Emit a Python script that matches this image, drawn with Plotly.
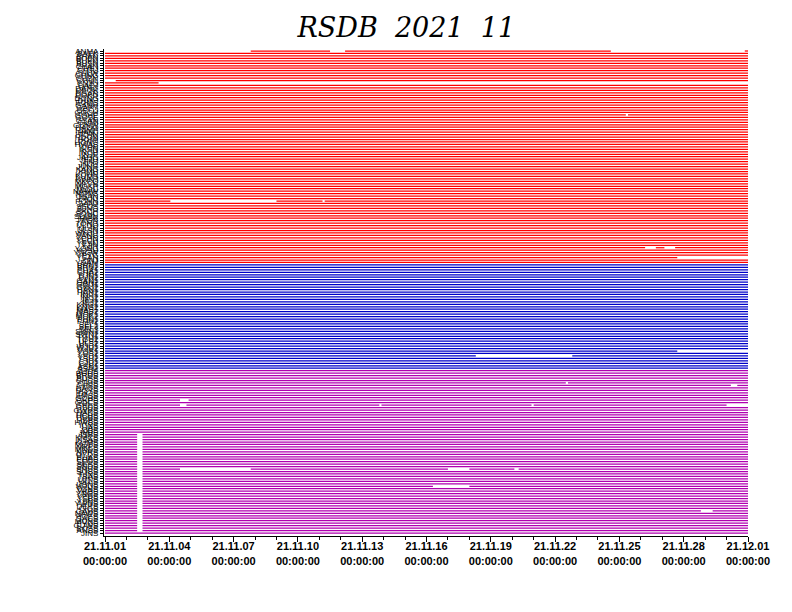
import pandas as pd
import plotly.graph_objects as go

month_start = pd.Timestamp("2021-11-01")
n_days = 30

red_stations = ("ANMA BAEK BHAN BOEN BUKN BUSN CHAN CHEJ CHJU CHLW CHNG CHSN CHUL CNJU DAEJ "
                "DANG DEOK DGAN DOKD DONG DUKJ EUMS GANH GAPY GEOJ GOCH GOHE GOSE GSAN GUMI "
                "GUNW HADO HAMP HANJ HCHN HDON HOMI HONG HWAS ICHN IKSN INCH INJE JAHG JEJU "
                "JINJ JNJU JUNG KANG KIMH KOHN KUMS KWNJ MKPO MLYN MOKP MUJU NAMW NONS OSAN "
                "PAJU POHN SANJ SEOS SJNG SKCH SONC SUWN TABK TEGN TONG ULDO ULJN ULSN WNJU "
                "YANG YCHN YECH YESN YJIN YONG YOSU YNGW YPYG YSAN ZINJ YDAM").split()
blue_stations = ("BRN1 BRN2 CHA1 CHA2 DJN1 DJN2 GAN1 GAN2 GWJ1 GWJ2 HAN1 HAN2 INC1 INC2 JEJ1 "
                 "JEJ2 KNG1 KNG2 MAS1 MAS2 MOK1 MOK2 PHN1 PHN2 SEL1 SEL2 SEL3 SWN1 SWN2 TGU1 "
                 "TGU2 ULS1 ULS2 WJU1 WJU2 YOS1 YOS2 YSU1 YSU2 CJU1 CJU2 ASN1 ASN2").split()
magenta_stations = ("AJDS BGDS BRDS BUSS CHCS CHJS CHSS DAGS DGYS DKJS "
                    "EMSS GCHS GKPS GOCS GRES GSUS GWHS HAKS HCHS HDBS "
                    "HSBS HWSS ICNS IJAS JJBS JMJS JSBS KMCS KSAS KUMS "
                    "MGBS MKLS MNDS NPRS OYDS PHAS PHES SEOS SESS SNDS "
                    "SNUS SOSS TJNS TBAS UJNS ULLS USNS WJUS YGNS YKBS "
                    "YNGS YPDS YSBS YSNS YWNS DEKS CIGS GAHS NAWS HOES "
                    "SACS MUNS PYCS GUWS BOSS ANSS JINS").split()

# data gaps per station row (day offsets from 2021-11-01 00:00)
red_gaps = {
    0: [(0.0, 6.8), (10.5, 11.2), (23.6, 29.85)],
    12: [(0.0, 0.5)],
    13: [(2.5, 30.0)],
    26: [(24.3, 24.4)],
    61: [(3.05, 8.0), (10.15, 10.25)],
    80: [(25.2, 25.7), (26.1, 26.6)],
    84: [(26.7, 30.0)],
}
blue_gaps = {
    35: [(26.7, 30.0)],
    37: [(17.3, 21.8)],
}
magenta_gaps = {
    5: [(21.5, 21.6)],
    6: [(29.2, 29.5)],
    12: [(3.5, 3.9)],
    14: [(3.5, 3.8), (12.8, 12.9), (19.9, 20.0), (29.0, 30.0)],
    26: [(1.5, 1.75)], 27: [(1.5, 1.75)], 28: [(1.5, 1.75)], 29: [(1.5, 1.75)],
    30: [(1.5, 1.75)], 31: [(1.5, 1.75)], 32: [(1.5, 1.75)], 33: [(1.5, 1.75)],
    34: [(1.5, 1.75)], 35: [(1.5, 1.75)], 36: [(1.5, 1.75)], 37: [(1.5, 1.75)],
    38: [(1.5, 1.75)], 39: [(1.5, 1.75)],
    40: [(1.5, 1.75), (3.5, 6.8), (16.0, 17.0), (19.1, 19.3)],
    41: [(1.5, 1.75)], 42: [(1.5, 1.75)], 43: [(1.5, 1.75)], 44: [(1.5, 1.75)],
    45: [(1.5, 1.75)], 46: [(1.5, 1.75)], 47: [(1.5, 1.75), (15.3, 17.0)],
    48: [(1.5, 1.75)], 49: [(1.5, 1.75)], 50: [(1.5, 1.75)], 51: [(1.5, 1.75)],
    52: [(1.5, 1.75)], 53: [(1.5, 1.75)], 54: [(1.5, 1.75)], 55: [(1.5, 1.75)],
    56: [(1.5, 1.75)], 57: [(1.5, 1.75), (27.8, 28.35)], 58: [(1.5, 1.75)],
    59: [(1.5, 1.75)], 60: [(1.5, 1.75)], 61: [(1.5, 1.75)], 62: [(1.5, 1.75)],
    63: [(1.5, 1.75)], 64: [(1.5, 1.75)], 65: [(1.5, 1.75)],
}

group_colors = {"red": "#ff0000", "blue": "#0000c8", "magenta": "#b000b0"}

tick_days = ["2021-11-01", "2021-11-04", "2021-11-07", "2021-11-10", "2021-11-13", "2021-11-16",
             "2021-11-19", "2021-11-22", "2021-11-25", "2021-11-28", "2021-12-01"]
tick_labels = ["21.11.01", "21.11.04", "21.11.07", "21.11.10", "21.11.13", "21.11.16",
               "21.11.19", "21.11.22", "21.11.25", "21.11.28", "21.12.01"]
tick_time = "00:00:00"


def segments(gaps):
    segs = []
    cur = 0.0
    for a, b in sorted(gaps):
        if a > cur:
            segs.append((cur, a))
        cur = max(cur, b)
    if cur < n_days:
        segs.append((cur, n_days))
    return segs


fig = go.Figure()
all_labels = []
row = 0
for name, stations, gaps in [("red", red_stations, red_gaps),
                             ("blue", blue_stations, blue_gaps),
                             ("magenta", magenta_stations, magenta_gaps)]:
    xs, ys = [], []
    for i, st in enumerate(stations):
        for a, b in segments(gaps.get(i, [])):
            xs += [month_start + pd.Timedelta(days=a), month_start + pd.Timedelta(days=b), None]
            ys += [row, row, None]
        all_labels.append(st)
        row += 1
    fig.add_trace(go.Scatter(x=xs, y=ys, mode="lines",
                             line=dict(color=group_colors[name], width=1.25),
                             hoverinfo="skip", showlegend=False))

n_rows = row
px_per_row = (533 - 51) / (n_rows - 1)

# page body has an 8px default margin, so the figure is drawn 8px smaller
fig.update_layout(
    width=784, height=604,
    margin=dict(l=96, r=44, t=41, b=76),
    paper_bgcolor="white", plot_bgcolor="white",
    title=dict(text="RSDB\u00a0\u00a02021\u00a0\u00a011", x=0.508, xanchor="center",
               y=0.967, yanchor="middle",
               font=dict(family="DejaVu Serif", size=27, color="black", style="italic")),
    showlegend=False,
)
fig.update_xaxes(
    type="date",
    range=[month_start - pd.Timedelta(days=1 / 21.43), month_start + pd.Timedelta(days=n_days)],
    tickmode="array", tickvals=tick_days,
    ticktext=[f"<b>{t}</b><br><b>{tick_time}</b>" for t in tick_labels],
    ticks="outside", ticklen=5, tickcolor="black", tickwidth=1,
    ticklabelstandoff=-5,
    tickfont=dict(family="Liberation Sans", size=11, color="black"),
    showline=True, linecolor="black", linewidth=1,
    showgrid=False, zeroline=False,
    minor=dict(ticks="outside", ticklen=3, tickcolor="black", dtick=86400000,
               tick0="2021-11-01", showgrid=False),
)
fig.update_yaxes(
    range=[n_rows - 1 + 3 / px_per_row, -2 / px_per_row],
    tickmode="array", tickvals=list(range(n_rows)), ticktext=all_labels,
    ticks="outside", ticklen=3, tickcolor="black", tickwidth=1,
    tickfont=dict(family="Liberation Sans", size=8, color="black"),
    showline=True, linecolor="black", linewidth=1,
    showgrid=False, zeroline=False,
)

fig.write_html("out.html")
